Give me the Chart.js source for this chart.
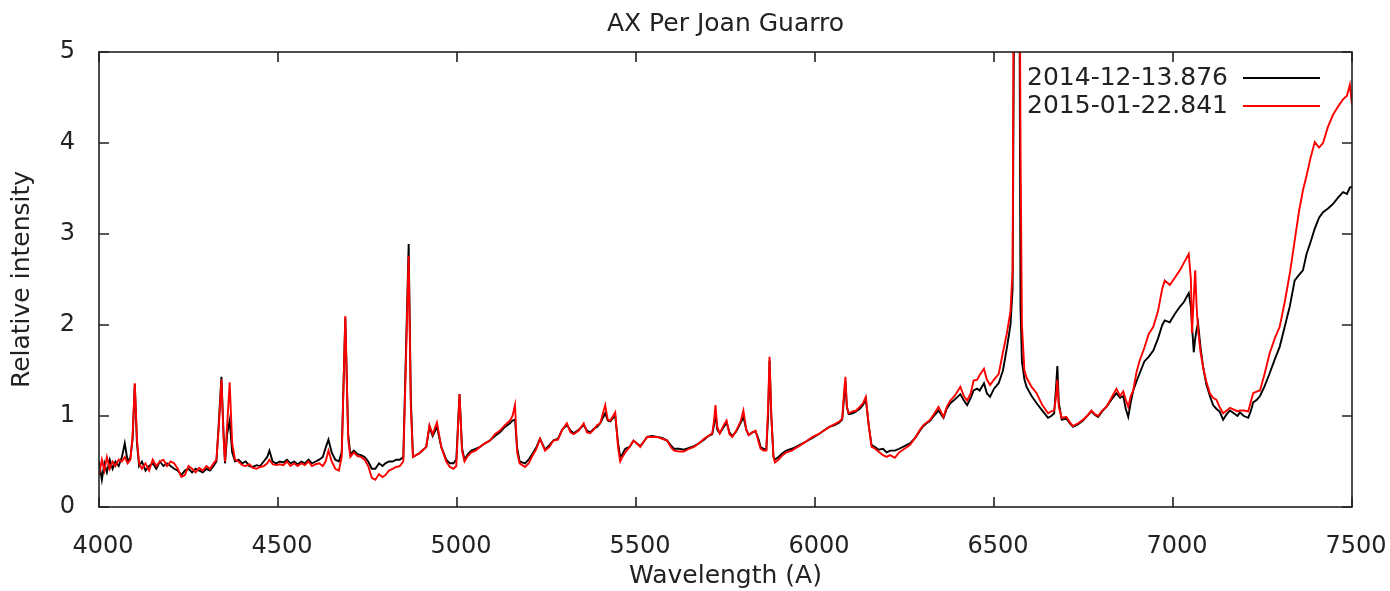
<!DOCTYPE html>
<html>
<head>
<meta charset="utf-8">
<title>AX Per Joan Guarro</title>
<script src="https://cdn.jsdelivr.net/npm/chart.js@4.4.1/dist/chart.umd.min.js"></script>
<style>
  html, body { margin: 0; padding: 0; background: #fff; }
  #wrap { width: 1390px; height: 591px; }
</style>
</head>
<body>
<div id="wrap"><canvas id="espectro"></canvas></div>
<script>
// Comprimentos de onda (A)
const wavelengths = [
  4000,4008,4015,4022,4030,4038,4046,4055,4064,4072,
  4080,4088,4094,4100,4106,4112,4120,4130,4140,4150,
  4160,4170,4180,4190,4200,4210,4220,4230,4240,4250,
  4260,4270,4280,4290,4300,4310,4320,4328,4335,4342,
  4348,4352,4358,4365,4372,4380,4390,4400,4410,4420,
  4430,4440,4450,4460,4470,4476,4485,4495,4505,4515,
  4525,4535,4545,4555,4565,4575,4585,4595,4605,4615,
  4625,4633,4641,4650,4660,4670,4678,4688,4696,4702,
  4712,4722,4732,4742,4752,4762,4772,4782,4792,4800,
  4810,4820,4830,4840,4850,4858,4865,4871,4877,4895,
  4914,4923,4932,4944,4956,4970,4980,4990,4998,5007,
  5014,5021,5030,5040,5052,5064,5078,5092,5106,5120,
  5134,5148,5155,5162,5168,5175,5190,5200,5213,5222,
  5232,5246,5258,5269,5282,5294,5307,5317,5326,5340,
  5354,5363,5372,5382,5391,5400,5414,5421,5428,5436,
  5442,5450,5456,5462,5470,5482,5493,5502,5512,5522,
  5531,5545,5559,5573,5587,5597,5606,5620,5634,5648,
  5662,5676,5690,5702,5713,5718,5722,5727,5734,5745,
  5753,5761,5769,5780,5793,5800,5808,5815,5825,5834,
  5842,5848,5856,5864,5869,5873,5878,5884,5888,5898,
  5909,5920,5935,5947,5960,5975,5993,6010,6025,6040,
  6055,6068,6076,6081,6085,6089,6094,6105,6115,6125,
  6134,6142,6150,6158,6168,6177,6190,6200,6210,6223,
  6235,6250,6265,6280,6295,6303,6312,6322,6332,6345,
  6359,6368,6378,6390,6406,6416,6425,6435,6443,6453,
  6460,6472,6480,6489,6500,6513,6525,6536,6546,6552,
  6556,6563,6570,6574,6578,6585,6591,6605,6619,6635,
  6651,6660,6668,6673,6677,6681,6689,6702,6712,6721,
  6735,6749,6760,6772,6782,6791,6802,6814,6828,6842,
  6852,6861,6868,6875,6882,6889,6898,6907,6920,6932,
  6945,6958,6970,6977,6991,7005,7019,7030,7044,7050,
  7053,7058,7062,7066,7070,7077,7084,7093,7103,7112,
  7121,7130,7140,7150,7159,7170,7180,7187,7198,7210,
  7217,7224,7235,7243,7255,7270,7284,7298,7312,7326,
  7340,7352,7363,7373,7385,7396,7408,7419,7433,7447,
  7461,7475,7486,7494,7500
];

// Espectro de 2014-12-13.876 (linha preta)
const flux2014 = [
  .50,.30,.48,.38,.52,.42,.50,.45,.55,.70,
  .50,.55,.75,1.35,.70,.45,.50,.40,.45,.48,
  .42,.50,.45,.48,.45,.42,.40,.35,.40,.42,
  .38,.42,.40,.38,.42,.40,.45,.50,.95,1.43,
  .80,.48,.80,.95,.60,.50,.52,.48,.50,.45,
  .44,.46,.45,.50,.55,.62,.50,.48,.50,.49,
  .52,.48,.50,.47,.50,.48,.52,.48,.50,.52,
  .55,.65,.74,.60,.52,.50,.60,2.08,.80,.58,
  .62,.58,.57,.55,.50,.42,.42,.48,.45,.48,
  .50,.50,.52,.52,.55,1.80,2.89,1.20,.55,.59,
  .66,.88,.78,.88,.66,.52,.48,.48,.52,1.24,
  .65,.52,.58,.62,.64,.66,.70,.73,.78,.82,
  .88,.92,.95,.96,.65,.50,.48,.52,.60,.66,
  .75,.63,.68,.73,.75,.85,.90,.84,.81,.85,
  .90,.84,.82,.86,.88,.92,1.03,.95,.94,.98,
  1.00,.70,.55,.58,.64,.66,.73,.70,.67,.72,
  .77,.78,.77,.76,.73,.68,.64,.64,.63,.65,
  .67,.70,.74,.78,.80,.90,1.03,.85,.81,.88,
  .93,.82,.78,.83,.93,.99,.85,.79,.82,.83,
  .75,.66,.64,.63,1.00,1.61,1.00,.55,.52,.55,
  .59,.62,.64,.66,.69,.72,.76,.80,.84,.88,
  .90,.93,.96,1.20,1.38,1.10,1.02,1.03,1.05,1.08,
  1.12,1.18,.90,.68,.66,.63,.64,.60,.62,.62,
  .64,.67,.70,.76,.85,.89,.92,.95,1.00,1.06,
  .98,1.08,1.14,1.18,1.24,1.17,1.12,1.20,1.28,1.30,
  1.28,1.36,1.25,1.21,1.30,1.36,1.50,1.75,2.00,2.40,
  5.5,14,7.0,2.2,1.60,1.40,1.32,1.22,1.14,1.06,
  .98,1.00,1.03,1.30,1.55,1.15,.96,.97,.92,.88,
  .91,.95,1.00,1.05,1.01,.99,1.05,1.10,1.18,1.25,
  1.20,1.22,1.08,.99,1.15,1.28,1.38,1.47,1.60,1.65,
  1.72,1.85,2.00,2.05,2.03,2.12,2.20,2.25,2.35,2.20,
  2.00,1.70,1.85,1.95,2.02,1.75,1.54,1.35,1.22,1.12,
  1.08,1.05,.96,1.02,1.06,1.03,1.00,1.04,1.00,.98,
  1.05,1.15,1.18,1.22,1.32,1.47,1.62,1.76,1.98,2.20,
  2.49,2.55,2.60,2.78,2.92,3.06,3.18,3.24,3.28,3.33,
  3.40,3.46,3.44,3.51,3.52
];

// Espectro de 2015-01-22.841 (linha vermelha)
const flux2015 = [
  .35,.52,.40,.55,.42,.50,.45,.52,.50,.55,
  .48,.52,.80,1.36,.75,.48,.42,.48,.40,.52,
  .45,.50,.52,.45,.50,.48,.42,.33,.35,.45,
  .42,.38,.43,.40,.45,.42,.48,.52,.90,1.40,
  .75,.50,.90,1.37,.70,.52,.50,.46,.45,.47,
  .43,.42,.44,.45,.48,.52,.47,.46,.47,.46,
  .50,.45,.48,.45,.48,.46,.50,.45,.47,.48,
  .45,.50,.62,.50,.42,.40,.55,2.10,.75,.55,
  .60,.56,.55,.52,.45,.32,.30,.36,.33,.35,
  .40,.42,.44,.45,.50,1.70,2.76,1.10,.55,.59,
  .66,.90,.80,.93,.66,.50,.44,.42,.45,1.24,
  .62,.50,.56,.60,.62,.66,.70,.73,.80,.84,
  .90,.95,1.00,1.12,.60,.48,.44,.48,.58,.64,
  .75,.62,.66,.73,.74,.85,.92,.82,.80,.84,
  .92,.82,.81,.85,.90,.92,1.12,.96,.95,1.00,
  1.04,.65,.50,.55,.60,.66,.73,.70,.66,.72,
  .77,.77,.77,.75,.73,.66,.62,.61,.61,.64,
  .66,.70,.75,.78,.81,.95,1.12,.88,.81,.90,
  .95,.80,.77,.84,.95,1.06,.85,.79,.82,.84,
  .72,.64,.62,.62,1.10,1.65,1.00,.55,.49,.52,
  .57,.60,.62,.65,.68,.72,.77,.80,.84,.88,
  .91,.94,.97,1.25,1.43,1.10,1.03,1.05,1.06,1.10,
  1.14,1.21,.90,.66,.64,.61,.57,.55,.57,.54,
  .60,.64,.68,.76,.86,.90,.93,.96,1.02,1.10,
  .99,1.10,1.17,1.22,1.32,1.22,1.17,1.25,1.39,1.40,
  1.45,1.52,1.40,1.34,1.40,1.46,1.70,1.91,2.15,2.60,
  7.0,16,8.0,4.0,2.00,1.50,1.42,1.32,1.25,1.12,
  1.03,1.05,1.06,1.20,1.40,1.10,.98,.99,.93,.89,
  .92,.96,1.00,1.06,1.02,1.00,1.06,1.10,1.20,1.30,
  1.22,1.27,1.18,1.10,1.22,1.28,1.48,1.61,1.75,1.90,
  1.98,2.15,2.40,2.49,2.44,2.52,2.60,2.68,2.78,2.50,
  1.91,2.30,2.60,2.20,1.95,1.70,1.54,1.38,1.25,1.20,
  1.18,1.10,1.03,1.06,1.09,1.07,1.05,1.06,1.06,1.05,
  1.15,1.25,1.27,1.28,1.45,1.69,1.85,1.98,2.25,2.56,
  2.93,3.25,3.48,3.64,3.85,4.01,3.95,4.00,4.18,4.31,
  4.40,4.48,4.52,4.64,4.42
];

const seriesLabels = ["2014-12-13.876", "2015-01-22.841"];
const seriesColors = ["#000000", "#ff0000"];
const xTicks = [4000, 4500, 5000, 5500, 6000, 6500, 7000, 7500];
const yTicks = [0, 1, 2, 3, 4, 5];

const textColor = "#222222";
const fontSize = 25;
const tickFontSize = 24;

// Monta os pontos {x, y} a partir dos arrays
function pontos(valores) {
    return wavelengths.map(function (w, i) { return { x: w, y: valores[i] }; });
}

// Moldura estilo gnuplot, ticks para dentro e legenda no canto
const molduraGnuplot = {
    id: "molduraGnuplot",
    afterDatasetsDraw(chart) {
        const ctx = chart.ctx;
        const a = chart.chartArea;
        const sx = chart.scales.x;
        const sy = chart.scales.y;
        const tam = 10;

        ctx.save();
        ctx.strokeStyle = "#222";
        ctx.lineWidth = 1.6;
        ctx.strokeRect(a.left, a.top, a.right - a.left, a.bottom - a.top);

        ctx.beginPath();
        xTicks.forEach(function (v) {
            const px = sx.getPixelForValue(v);
            ctx.moveTo(px, a.bottom); ctx.lineTo(px, a.bottom - tam);
            ctx.moveTo(px, a.top); ctx.lineTo(px, a.top + tam);
        });
        yTicks.forEach(function (v) {
            const py = sy.getPixelForValue(v);
            ctx.moveTo(a.left, py); ctx.lineTo(a.left + tam, py);
            ctx.moveTo(a.right, py); ctx.lineTo(a.right - tam, py);
        });
        ctx.stroke();

        // legenda: texto a direita, amostra da linha depois
        ctx.font = fontSize + "px 'DejaVu Sans'";
        ctx.textAlign = "right";
        ctx.textBaseline = "middle";
        chart.data.datasets.forEach(function (ds, i) {
            const y = a.top + 26 + i * 28;
            ctx.fillStyle = textColor;
            ctx.fillText(ds.label, a.right - 124, y);
            ctx.strokeStyle = ds.borderColor;
            ctx.lineWidth = 2;
            ctx.beginPath();
            ctx.moveTo(a.right - 109, y);
            ctx.lineTo(a.right - 32, y);
            ctx.stroke();
        });
        ctx.restore();
    }
};

Chart.defaults.font.family = "'DejaVu Sans', Verdana, sans-serif";
Chart.defaults.font.size = fontSize;
Chart.defaults.color = textColor;

const contexto = document.getElementById("espectro").getContext("2d");

const grafico = new Chart(contexto, {
    type: "line",
    data: {
        datasets: [
            {
                label: seriesLabels[0],
                data: pontos(flux2014),
                borderColor: seriesColors[0],
                borderWidth: 1.9,
                pointRadius: 0,
                tension: 0,
                order: 2
            },
            {
                label: seriesLabels[1],
                data: pontos(flux2015),
                borderColor: seriesColors[1],
                borderWidth: 1.9,
                pointRadius: 0,
                tension: 0,
                order: 1
            }
        ]
    },
    options: {
        responsive: true,
        maintainAspectRatio: false,
        animation: false,
        events: [],
        layout: { padding: { left: 0, right: 38, top: 0, bottom: 0 } },
        plugins: {
            legend: { display: false },
            tooltip: { enabled: false },
            title: {
                display: true,
                fullSize: false,
                text: "AX Per Joan Guarro",
                font: { size: fontSize, weight: "normal" },
                color: textColor,
                padding: { top: 9, bottom: 13 }
            }
        },
        scales: {
            x: {
                type: "linear",
                min: 4000,
                max: 7500,
                grid: { display: false },
                border: { display: false },
                afterBuildTicks(scale) {
                    scale.ticks = xTicks.map(function (v) { return { value: v }; });
                },
                afterFit(scale) {
                    scale.height = 84;
                    scale.paddingLeft = 0;
                    scale.paddingRight = 0;
                },
                ticks: {
                    autoSkip: false,
                    maxRotation: 0,
                    padding: 17,
                    labelOffset: 4,
                    font: { size: tickFontSize },
                    callback: function (v) { return String(v); }
                },
                title: {
                    display: true,
                    text: "Wavelength (A)",
                    padding: { top: 0, bottom: 0 }
                }
            },
            y: {
                min: 0,
                max: 5,
                grid: { display: false },
                border: { display: false },
                afterBuildTicks(scale) {
                    scale.ticks = yTicks.map(function (v) { return { value: v }; });
                },
                afterFit(scale) {
                    scale.width = 99;
                    scale.paddingTop = 0;
                    scale.paddingBottom = 0;
                },
                ticks: {
                    padding: 16,
                    font: { size: tickFontSize },
                    callback: function (v) { return String(v); }
                },
                title: {
                    display: true,
                    text: "Relative intensity",
                    padding: { top: 7, bottom: 0 }
                }
            }
        }
    },
    plugins: [molduraGnuplot]
});
</script>
</body>
</html>
